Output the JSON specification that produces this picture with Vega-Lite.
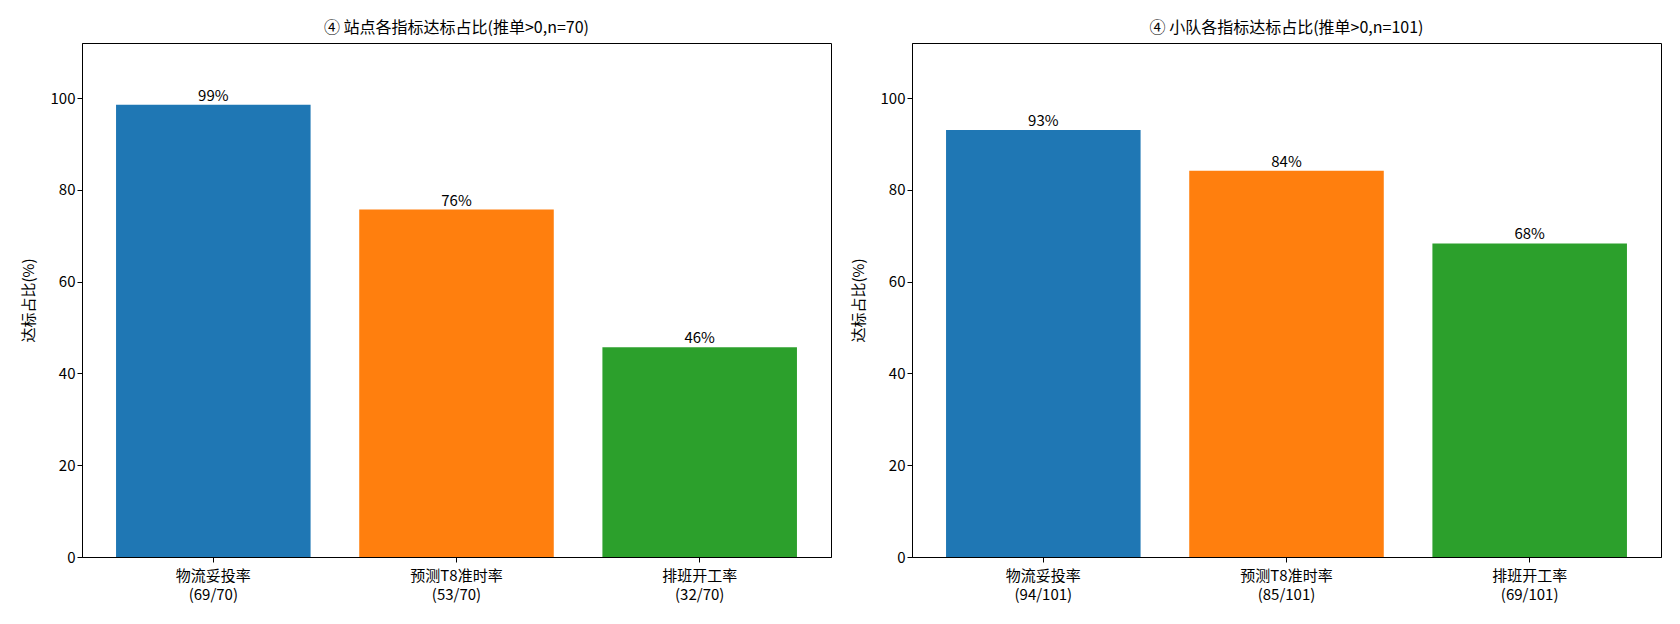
{
  "$schema": "https://vega.github.io/schema/vega-lite/v6.json",
  "background": "white",
  "padding": {"left": 20, "top": 19, "right": 10, "bottom": 5},
  "spacing": 18,
  "config": {
    "font": "Noto Sans CJK SC",
    "view": {"stroke": "black", "strokeWidth": 1},
    "axis": {"grid": false, "domainColor": "black", "tickColor": "black", "labelColor": "black", "titleColor": "black", "labelFontSize": 15, "titleFontSize": 15, "titleFontWeight": "normal", "tickSize": 5},
    "title": {"fontSize": 16, "fontWeight": "normal", "color": "black", "offset": 7}
  },
  "datasets": {
    "site": [
      {"指标": "物流妥投率|(69/70)", "占比": 98.57, "标签": "99%"},
      {"指标": "预测T8准时率|(53/70)", "占比": 75.71, "标签": "76%"},
      {"指标": "排班开工率|(32/70)", "占比": 45.71, "标签": "46%"}
    ],
    "team": [
      {"指标": "物流妥投率|(94/101)", "占比": 93.07, "标签": "93%"},
      {"指标": "预测T8准时率|(85/101)", "占比": 84.16, "标签": "84%"},
      {"指标": "排班开工率|(69/101)", "占比": 68.32, "标签": "68%"}
    ]
  },
  "hconcat": [
    {
      "title": "④ 站点各指标达标占比(推单>0,n=70)",
      "data": {"name": "site"},
      "width": 749,
      "height": 514,
      "encoding": {
        "x": {"field": "指标", "type": "nominal", "sort": null, "title": null,
          "scale": {"paddingInner": 0.2, "paddingOuter": 0.14},
          "axis": {"labelAngle": 0, "labelExpr": "split(datum.value, '|')", "labelPadding": 6, "labelLineHeight": 19}},
        "y": {"field": "占比", "type": "quantitative", "title": "达标占比(%)",
          "scale": {"domain": [0, 112], "nice": false},
          "axis": {"values": [0, 20, 40, 60, 80, 100], "titlePadding": 14}}
      },
      "layer": [
        {"mark": {"type": "bar"},
         "encoding": {"color": {"field": "指标", "type": "nominal", "sort": null, "legend": null,
           "scale": {"range": ["#1f77b4", "#ff7f0e", "#2ca02c"]}}}},
        {"mark": {"type": "text", "baseline": "bottom", "dy": -1, "fontSize": 15, "color": "black"},
         "encoding": {"text": {"field": "标签"}}}
      ]
    },
    {
      "title": "④ 小队各指标达标占比(推单>0,n=101)",
      "data": {"name": "team"},
      "width": 749,
      "height": 514,
      "encoding": {
        "x": {"field": "指标", "type": "nominal", "sort": null, "title": null,
          "scale": {"paddingInner": 0.2, "paddingOuter": 0.14},
          "axis": {"labelAngle": 0, "labelExpr": "split(datum.value, '|')", "labelPadding": 6, "labelLineHeight": 19}},
        "y": {"field": "占比", "type": "quantitative", "title": "达标占比(%)",
          "scale": {"domain": [0, 112], "nice": false},
          "axis": {"values": [0, 20, 40, 60, 80, 100], "titlePadding": 14}}
      },
      "layer": [
        {"mark": {"type": "bar"},
         "encoding": {"color": {"field": "指标", "type": "nominal", "sort": null, "legend": null,
           "scale": {"range": ["#1f77b4", "#ff7f0e", "#2ca02c"]}}}},
        {"mark": {"type": "text", "baseline": "bottom", "dy": -1, "fontSize": 15, "color": "black"},
         "encoding": {"text": {"field": "标签"}}}
      ]
    }
  ],
  "resolve": {"scale": {"color": "independent"}}
}
